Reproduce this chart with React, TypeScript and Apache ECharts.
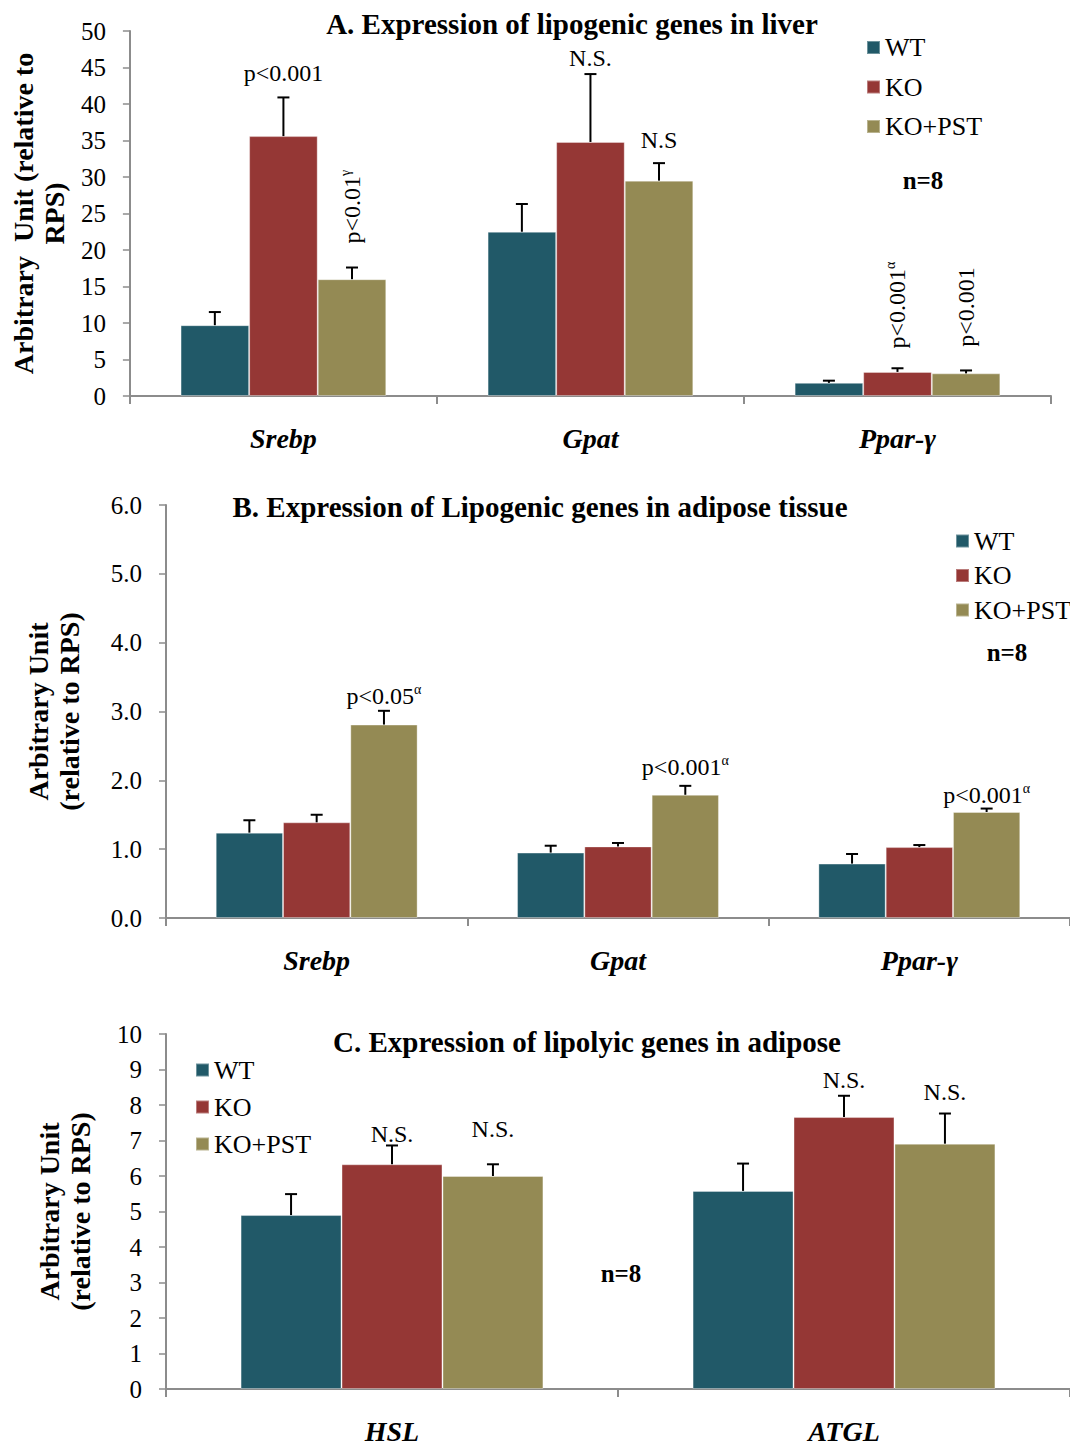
import React, { useEffect, useRef } from "react";
import * as echarts from "echarts";

// ---------- data ----------
const GROUPS = ["WT", "KO", "KO+PST"];
const COLORS = ["#215968", "#953735", "#948A54"];

// Panel A: liver lipogenic genes
const catsA = ["Srebp", "Gpat", "Ppar-γ"];
const wtA = [9.7, 22.5, 1.8];
const koA = [35.6, 34.8, 3.3];
const pstA = [16.0, 29.5, 3.1];
const wtErrA = [1.8, 3.8, 0.3];
const koErrA = [5.3, 9.3, 0.5];
const pstErrA = [1.6, 2.4, 0.4];
const ticksA = { min: 0, max: 50, interval: 5 };

// Panel B: adipose lipogenic genes
const catsB = ["Srebp", "Gpat", "Ppar-γ"];
const wtB = [1.24, 0.95, 0.79];
const koB = [1.39, 1.04, 1.03];
const pstB = [2.81, 1.79, 1.54];
const wtErrB = [0.18, 0.1, 0.14];
const koErrB = [0.11, 0.05, 0.03];
const pstErrB = [0.2, 0.13, 0.05];
const ticksB = { min: 0, max: 6, interval: 1 };

// Panel C: adipose lipolytic genes
const catsC = ["HSL", "ATGL"];
const wtC = [4.9, 5.58];
const koC = [6.33, 7.66];
const pstC = [6.0, 6.91];
const wtErrC = [0.59, 0.77];
const koErrC = [0.53, 0.6];
const pstErrC = [0.33, 0.85];
const ticksC = { min: 0, max: 10, interval: 1 };

// annotations: [category index, bar index, y value], text, rotated
const annotTextA = ["p<0.001", "p<0.01{g|γ}", "N.S.", "N.S", "p<0.001{g|α}", "p<0.001"];
const annotPosA = [
  [0, 1, 44.2],
  [0, 2, 20.9],
  [1, 1, 46.3],
  [1, 2, 35.1],
  [2, 1, 6.5],
  [2, 2, 6.75],
];
const annotRotA = [false, true, false, false, true, true];

const annotTextB = ["p<0.05{a|α}", "p<0.001{a|α}", "p<0.001{a|α}"];
const annotPosB = [
  [0, 2, 3.22],
  [1, 2, 2.2],
  [2, 2, 1.78],
];
const annotRotB = [false, false, false];

const annotTextC = ["N.S.", "N.S.", "N.S.", "N.S."];
const annotPosC = [
  [0, 1, 7.17],
  [0, 2, 7.31],
  [1, 1, 8.71],
  [1, 2, 8.38],
];
const annotRotC = [false, false, false, false];

const titles = [
  "A. Expression of lipogenic genes in liver",
  "B. Expression of Lipogenic genes in adipose tissue",
  "C. Expression of lipolyic genes in adipose",
];
const yNames = [
  "Arbitrary  Unit (relative to\nRPS)",
  "Arbitrary Unit\n(relative to RPS)",
  "Arbitrary Unit\n(relative to RPS)",
];

// ---------- styling ----------
const FONT = "'Liberation Serif', 'Times New Roman', serif";
const GRAY = "#8c8c8c";
const GAP = 0.33;

const panels = [
  {
    cats: catsA, means: [wtA, koA, pstA], errs: [wtErrA, koErrA, pstErrA], ticks: ticksA, dec: 0,
    annText: annotTextA, annPos: annotPosA, annRot: annotRotA,
    grid: { left: 127, top: 31, width: 924, height: 365 }, nameGap: 54,
    legend: { left: 866, top: 34.5, itemGap: 13.5 },
    title: { x: 572, y: 24 }, n8: { x: 923, y: 180 },
  },
  {
    cats: catsB, means: [wtB, koB, pstB], errs: [wtErrB, koErrB, pstErrB], ticks: ticksB, dec: 1,
    annText: annotTextB, annPos: annotPosB, annRot: annotRotB,
    grid: { left: 166, top: 505, width: 917, height: 413 }, nameGap: 81,
    legend: { left: 955, top: 528, itemGap: 8.5 },
    title: { x: 540, y: 507 }, n8: { x: 1007, y: 652 },
  },
  {
    cats: catsC, means: [wtC, koC, pstC], errs: [wtErrC, koErrC, pstErrC], ticks: ticksC, dec: 0,
    annText: annotTextC, annPos: annotPosC, annRot: annotRotC,
    grid: { left: 166, top: 1034, width: 916, height: 357 }, nameGap: 70,
    legend: { left: 195, top: 1057, itemGap: 11 },
    title: { x: 587, y: 1042 }, n8: { x: 621, y: 1273 },
  },
];

const richSup = {
  g: { fontSize: 14, fontFamily: FONT, fill: "#000", verticalAlign: "top", lineHeight: 14 },
  a: { fontSize: 14, fontFamily: FONT, fill: "#000", verticalAlign: "top", lineHeight: 14 },
};

function makeErr(s: number) {
  return (_params: any, api: any) => {
    const cat = api.value(0);
    const base = api.coord([cat, api.value(1)]);
    const top = api.coord([cat, api.value(2)]);
    const band = api.size([1, 0])[0];
    const bw = (band * (1 - GAP)) / 3;
    const cx = base[0] + (s - 1) * bw;
    return {
      type: "group",
      children: [
        { type: "line", shape: { x1: cx, y1: base[1], x2: cx, y2: top[1] }, style: { stroke: "#000", lineWidth: 2 } },
        { type: "line", shape: { x1: cx - 6, y1: top[1], x2: cx + 6, y2: top[1] }, style: { stroke: "#000", lineWidth: 2 } },
      ],
    };
  };
}

function makeAnnot(texts: string[], rots: boolean[]) {
  return (params: any, api: any) => {
    const i = params.dataIndex;
    const cat = api.value(0);
    const bar = api.value(1);
    const p = api.coord([cat, api.value(2)]);
    const band = api.size([1, 0])[0];
    const bw = (band * (1 - GAP)) / 3;
    const cx = p[0] + (bar - 1) * bw;
    const rot = rots[i];
    return {
      type: "text",
      x: cx,
      y: p[1],
      rotation: rot ? Math.PI / 2 : 0,
      style: {
        text: texts[i],
        fill: "#000",
        fontSize: 24,
        fontFamily: FONT,
        align: rot ? "left" : "center",
        verticalAlign: "middle",
        lineHeight: 27,
        rich: richSup,
      },
    };
  };
}

function buildOption() {
  const grid: any[] = [];
  const xAxis: any[] = [];
  const yAxis: any[] = [];
  const series: any[] = [];
  const legend: any[] = [];
  const graphic: any[] = [];

  panels.forEach((p, g) => {
    grid.push({ ...p.grid, containLabel: false });
    xAxis.push({
      type: "category",
      gridIndex: g,
      data: p.cats,
      axisLine: { lineStyle: { color: GRAY, width: 2 } },
      axisTick: { show: true, length: 8, lineStyle: { color: GRAY, width: 2 } },
      axisLabel: {
        color: "#000", fontFamily: FONT, fontSize: 28, fontWeight: "bold", fontStyle: "italic", margin: 28,
      },
      splitLine: { show: false },
    });
    yAxis.push({
      type: "value",
      gridIndex: g,
      min: p.ticks.min,
      max: p.ticks.max,
      interval: p.ticks.interval,
      name: yNames[g],
      nameLocation: "middle",
      nameRotate: 90,
      nameGap: p.nameGap,
      nameTextStyle: { color: "#000", fontFamily: FONT, fontSize: 28, fontWeight: "bold", lineHeight: 31 },
      axisLine: { show: true, lineStyle: { color: GRAY, width: 2 } },
      axisTick: { show: true, length: 7, lineStyle: { color: GRAY, width: 1.5 } },
      axisLabel: {
        color: "#000", fontFamily: FONT, fontSize: 25, margin: 24,
        formatter: (v: number) => v.toFixed(p.dec),
      },
      splitLine: { show: false },
    });
    for (let s = 0; s < 3; s++) {
      series.push({
        type: "bar",
        name: GROUPS[s],
        xAxisIndex: g,
        yAxisIndex: g,
        data: p.means[s],
        barGap: "0%",
        barCategoryGap: GAP * 100 + "%",
        itemStyle: { color: COLORS[s], borderColor: "rgba(255,255,255,0.35)", borderWidth: 1 },
        z: 2,
      });
    }
    for (let s = 0; s < 3; s++) {
      series.push({
        type: "custom",
        name: "err" + g + s,
        xAxisIndex: g,
        yAxisIndex: g,
        silent: true,
        z: 3,
        encode: { x: 0, y: [1, 2] },
        data: p.cats.map((_, i) => [i, p.means[s][i], p.means[s][i] + p.errs[s][i]]),
        renderItem: makeErr(s),
      });
    }
    series.push({
      type: "custom",
      name: "annot" + g,
      xAxisIndex: g,
      yAxisIndex: g,
      silent: true,
      z: 4,
      encode: { x: 0, y: 2 },
      data: p.annPos,
      renderItem: makeAnnot(p.annText, p.annRot),
    });
    legend.push({
      data: GROUPS,
      orient: "vertical",
      left: p.legend.left,
      top: p.legend.top,
      itemWidth: 13,
      itemHeight: 13,
      itemGap: p.legend.itemGap,
      icon: "rect",
      selectedMode: false,
      padding: 0,
      textStyle: { color: "#000", fontFamily: FONT, fontSize: 26 },
    });
    graphic.push({
      type: "text",
      x: p.title.x,
      y: p.title.y,
      style: {
        text: titles[g], fill: "#000", fontFamily: FONT, fontSize: 29, fontWeight: "bold",
        align: "center", verticalAlign: "middle",
      },
    });
    graphic.push({
      type: "text",
      x: p.n8.x,
      y: p.n8.y,
      style: {
        text: "n=8", fill: "#000", fontFamily: FONT, fontSize: 25, fontWeight: "bold",
        align: "center", verticalAlign: "middle",
      },
    });
  });

  return {
    animation: false,
    backgroundColor: "#fff",
    textStyle: { fontFamily: FONT },
    grid,
    xAxis,
    yAxis,
    legend,
    series,
    graphic,
  };
}

export default function App() {
  const ref = useRef<HTMLDivElement>(null);
  useEffect(() => {
    document.body.style.margin = "0";
    const chart = echarts.init(ref.current!, null, { renderer: "svg" });
    chart.setOption(buildOption() as any);
    return () => chart.dispose();
  }, []);
  return <div ref={ref} style={{ width: 1070, height: 1445 }} />;
}
